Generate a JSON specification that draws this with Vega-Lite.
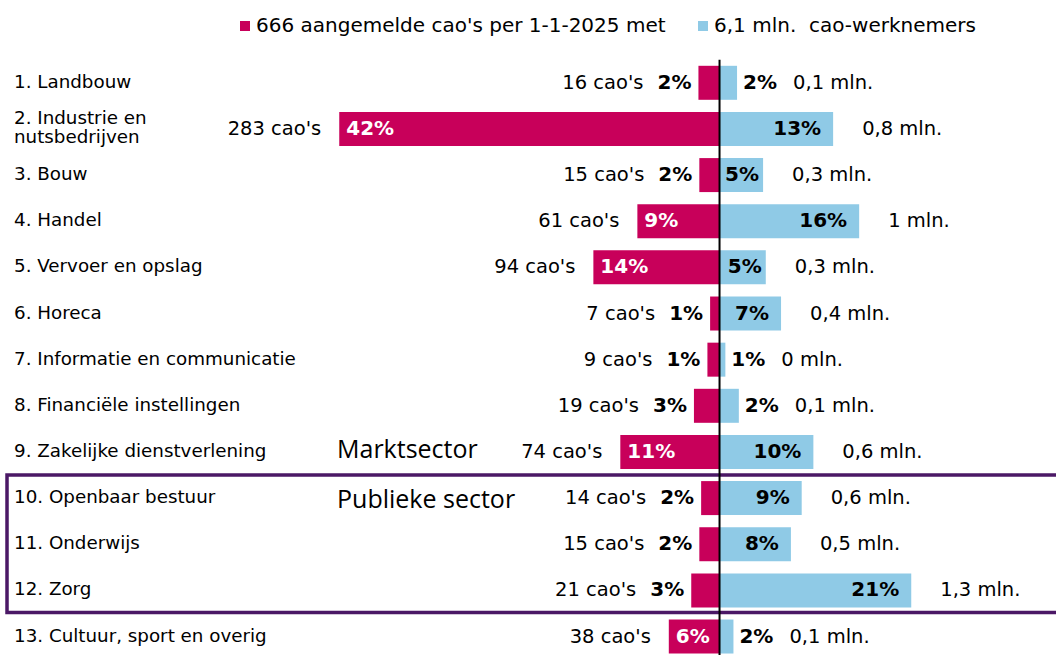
{
  "$schema": "https://vega.github.io/schema/vega-lite/v6.json",
  "width": 1056,
  "height": 655,
  "padding": 0,
  "autosize": {"type": "none"},
  "background": "white",
  "config": {"view": {"stroke": null}, "text": {"font": "DejaVu Sans", "color": "#000"}},
  "data": {
    "values": [
      {"nr": 1, "sector": "1. Landbouw", "caos": 16, "caoPct": 2.4, "wnPct": 1.9, "wn": "0,1"},
      {"nr": 2, "sector": "2. Industrie en\nnutsbedrijven", "caos": 283, "caoPct": 42.4, "wnPct": 12.6, "wn": "0,8"},
      {"nr": 3, "sector": "3. Bouw", "caos": 15, "caoPct": 2.3, "wnPct": 4.8, "wn": "0,3"},
      {"nr": 4, "sector": "4. Handel", "caos": 61, "caoPct": 9.2, "wnPct": 15.5, "wn": "1"},
      {"nr": 5, "sector": "5. Vervoer en opslag", "caos": 94, "caoPct": 14.1, "wnPct": 5.1, "wn": "0,3"},
      {"nr": 6, "sector": "6. Horeca", "caos": 7, "caoPct": 1.1, "wnPct": 6.8, "wn": "0,4"},
      {"nr": 7, "sector": "7. Informatie en communicatie", "caos": 9, "caoPct": 1.4, "wnPct": 0.6, "wn": "0"},
      {"nr": 8, "sector": "8. Financiële instellingen", "caos": 19, "caoPct": 2.9, "wnPct": 2.1, "wn": "0,1"},
      {"nr": 9, "sector": "9. Zakelijke dienstverlening", "caos": 74, "caoPct": 11.1, "wnPct": 10.4, "wn": "0,6"},
      {"nr": 10, "sector": "10. Openbaar bestuur", "caos": 14, "caoPct": 2.1, "wnPct": 9.1, "wn": "0,6"},
      {"nr": 11, "sector": "11. Onderwijs", "caos": 15, "caoPct": 2.3, "wnPct": 7.9, "wn": "0,5"},
      {"nr": 12, "sector": "12. Zorg", "caos": 21, "caoPct": 3.2, "wnPct": 21.3, "wn": "1,3"},
      {"nr": 13, "sector": "13. Cultuur, sport en overig", "caos": 38, "caoPct": 5.7, "wnPct": 1.5, "wn": "0,1"}
    ]
  },
  "encoding": {
    "y": {"field": "nr", "type": "quantitative", "scale": {"domain": [-0.686, 13.292], "reverse": true, "nice": false, "zero": false}, "axis": null}
  },
  "layer": [
    {
      "encoding": {
        "x": {"field": "caoPct", "type": "quantitative", "scale": {"domain": [-37.42, 80.18], "reverse": true, "nice": false, "zero": false}, "axis": null}
      },
      "layer": [
        {
          "mark": {"type": "bar", "size": 34, "orient": "horizontal"},
          "encoding": {
            "x2": {"datum": 0},
            "color": {
              "datum": "666 aangemelde cao's per 1-1-2025 met",
              "type": "nominal",
              "scale": {"domain": ["666 aangemelde cao's per 1-1-2025 met", "6,1 mln.\u00a0 cao-werknemers"], "range": ["#C8005A", "#8FCAE6"]},
              "legend": {"orient": "none", "legendX": 235, "legendY": 16, "direction": "horizontal", "title": null, "symbolType": "square", "symbolSize": 100, "symbolStrokeWidth": 0, "labelFont": "DejaVu Sans", "labelFontSize": 20, "labelColor": "#000", "labelLimit": 800, "labelOffset": 1, "columnPadding": 27}
            }
          }
        },
        {
          "transform": [{"filter": "datum.caoPct >= 4"}],
          "mark": {"type": "text", "align": "left", "baseline": "middle", "dx": 7, "fontWeight": "bold", "fontSize": 20, "fill": "#ffffff", "text": {"expr": "format(datum.caoPct, '.0f') + '%'"}}
        },
        {
          "transform": [{"filter": "datum.caoPct < 4"}],
          "mark": {"type": "text", "align": "right", "baseline": "middle", "dx": -7, "fontWeight": "bold", "fontSize": 20, "fill": "#000000", "text": {"expr": "format(datum.caoPct, '.0f') + '%'"}}
        },
        {
          "transform": [{"filter": "datum.caoPct < 4"}],
          "mark": {"type": "text", "align": "right", "baseline": "middle", "dx": -55, "fontSize": 19.5, "fill": "#000000", "text": {"expr": "datum.caos + \" cao's\""}}
        },
        {
          "transform": [{"filter": "datum.caoPct >= 4"}],
          "mark": {"type": "text", "align": "right", "baseline": "middle", "dx": -18, "fontSize": 19.5, "fill": "#000000", "text": {"expr": "datum.caos + \" cao's\""}}
        }
      ]
    },
    {
      "encoding": {
        "x": {"field": "wnPct", "type": "quantitative", "scale": {"domain": [-80.18, 37.42], "nice": false, "zero": false}, "axis": null}
      },
      "layer": [
        {
          "mark": {"type": "bar", "size": 34, "orient": "horizontal"},
          "encoding": {
            "x2": {"datum": 0},
            "color": {
              "datum": "6,1 mln.\u00a0 cao-werknemers",
              "type": "nominal",
              "scale": {"domain": ["666 aangemelde cao's per 1-1-2025 met", "6,1 mln.\u00a0 cao-werknemers"], "range": ["#C8005A", "#8FCAE6"]}
            }
          }
        },
        {
          "transform": [{"filter": "datum.wnPct < 4"}],
          "mark": {"type": "text", "align": "left", "baseline": "middle", "dx": 6, "fontWeight": "bold", "fontSize": 20, "fill": "#000000", "text": {"expr": "format(datum.wnPct, '.0f') + '%'"}}
        },
        {
          "transform": [{"filter": "datum.wnPct >= 4 && datum.wnPct < 6"}],
          "mark": {"type": "text", "align": "right", "baseline": "middle", "dx": -4, "fontWeight": "bold", "fontSize": 20, "fill": "#000000", "text": {"expr": "format(datum.wnPct, '.0f') + '%'"}}
        },
        {
          "transform": [{"filter": "datum.wnPct >= 6"}],
          "mark": {"type": "text", "align": "right", "baseline": "middle", "dx": -12, "fontWeight": "bold", "fontSize": 20, "fill": "#000000", "text": {"expr": "format(datum.wnPct, '.0f') + '%'"}}
        },
        {
          "transform": [{"filter": "datum.wnPct < 4"}],
          "mark": {"type": "text", "align": "left", "baseline": "middle", "dx": 56, "fontSize": 19.5, "fill": "#000000", "text": {"expr": "datum.wn + ' mln.'"}}
        },
        {
          "transform": [{"filter": "datum.wnPct >= 4"}],
          "mark": {"type": "text", "align": "left", "baseline": "middle", "dx": 29, "fontSize": 19.5, "fill": "#000000", "text": {"expr": "datum.wn + ' mln.'"}}
        },
        {
          "transform": [{"filter": "datum.nr != 2"}],
          "mark": {"type": "text", "align": "left", "baseline": "middle", "fontSize": 18.3, "fill": "#000000"},
          "encoding": {"x": {"datum": -78.62}, "text": {"field": "sector"}}
        },
        {
          "transform": [{"filter": "datum.nr == 2"}],
          "mark": {"type": "text", "align": "left", "baseline": "middle", "dy": -9.5, "fontSize": 18.3, "fill": "#000000", "lineBreak": "\n", "lineHeight": 19},
          "encoding": {"x": {"datum": -78.62}, "text": {"field": "sector"}}
        },
        {
          "transform": [{"filter": "datum.nr == 9"}],
          "mark": {"type": "text", "align": "left", "baseline": "middle", "dy": -2, "font": "Open Sans", "fontSize": 25, "fill": "#000000", "text": "Marktsector"},
          "encoding": {"x": {"datum": -42.65}}
        },
        {
          "transform": [{"filter": "datum.nr == 10"}],
          "mark": {"type": "text", "align": "left", "baseline": "middle", "dy": 2, "font": "Open Sans", "fontSize": 25, "fill": "#000000", "text": "Publieke sector"},
          "encoding": {"x": {"datum": -42.65}}
        },
        {
          "transform": [{"filter": "datum.nr == 1"}],
          "mark": {"type": "rect", "filled": false, "fill": null, "stroke": "#4B1866", "strokeWidth": 3.5},
          "encoding": {"x": {"datum": -79.4}, "x2": {"datum": 40}, "y": {"datum": 9.5}, "y2": {"datum": 12.48}}
        },
        {
          "transform": [{"filter": "datum.nr == 1"}],
          "mark": {"type": "rule", "stroke": "#000000", "strokeWidth": 2},
          "encoding": {"x": {"datum": -0.05}, "y": {"datum": 0.5}, "y2": {"datum": 14}}
        }
      ]
    }
  ],
  "resolve": {"scale": {"x": "independent"}}
}
